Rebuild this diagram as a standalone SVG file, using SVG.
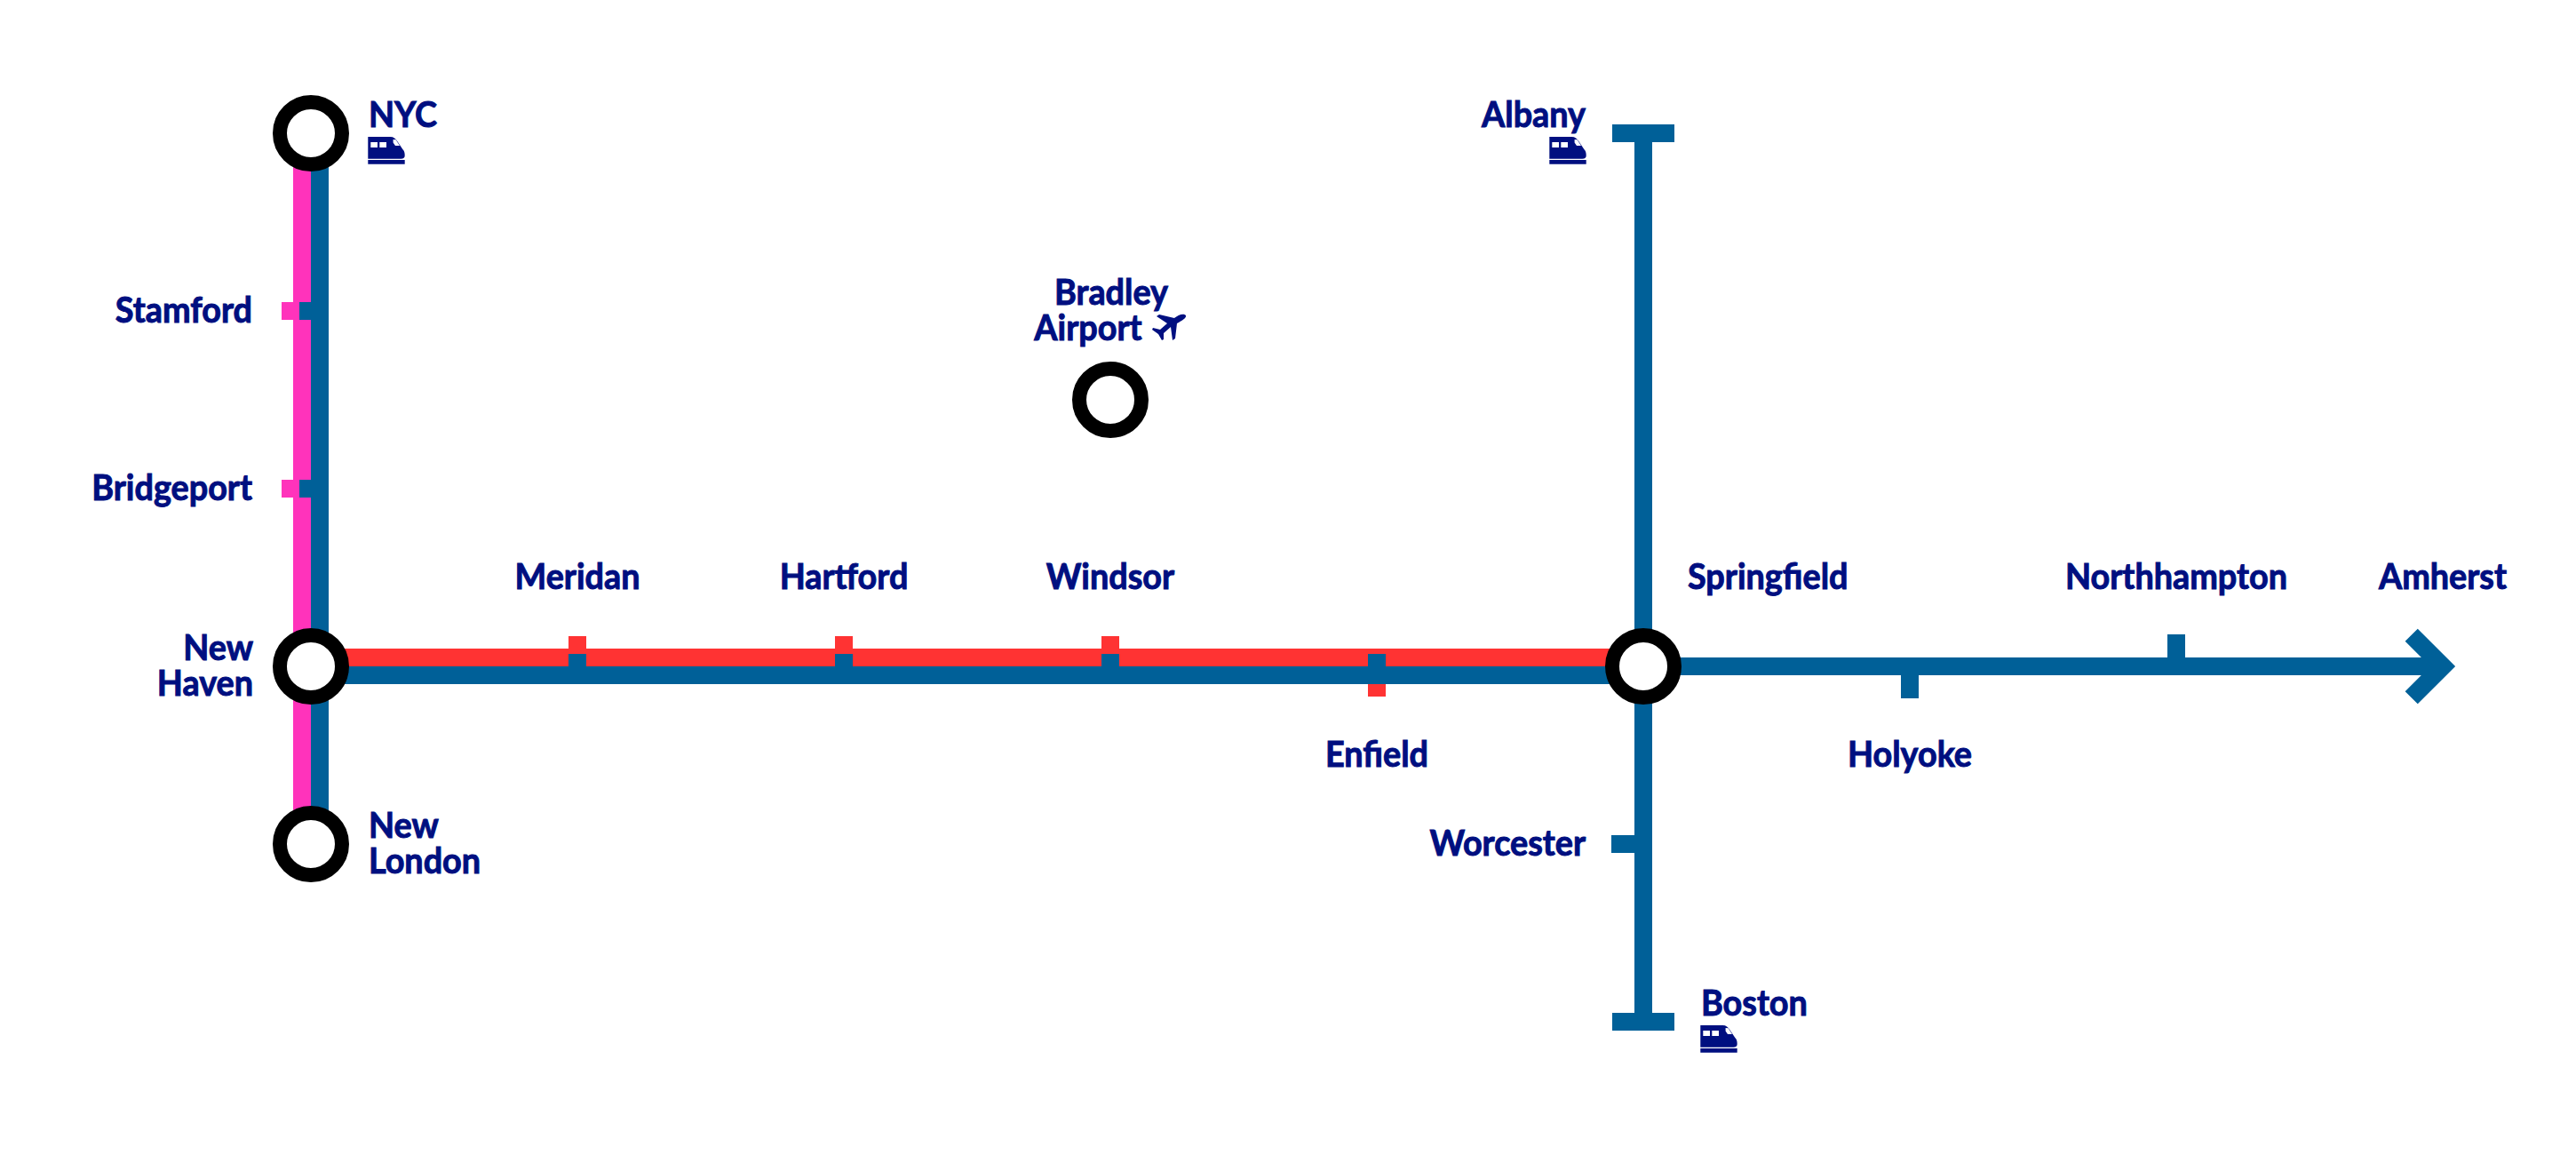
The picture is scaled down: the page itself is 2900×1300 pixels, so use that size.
<svg xmlns="http://www.w3.org/2000/svg" width="2900" height="1300" viewBox="0 0 2900 1300">
<style>
text{font-family:"Lato","Open Sans",sans-serif;font-weight:700;font-size:40px;fill:#000f80;stroke:#000f80;stroke-width:1px;transform-box:fill-box;transform:scaleX(.945);transform-origin:left center}
.e{text-anchor:end;transform-origin:right center}.m{text-anchor:middle;transform-origin:center center}
.st{fill:#fff;stroke:#000;stroke-width:16}
.bl{stroke:#006098;fill:none;stroke-width:20}
.pk{stroke:#ff33bb;fill:none;stroke-width:20}
.rd{stroke:#ff3333;fill:none;stroke-width:20}
.ic{fill:#000f80;fill-rule:evenodd}
</style>
<defs>
<path id="train" class="ic" d="M0,0H25C29,0 31,2 33,5L39,14C41,16 41.400,18 41.400,21C41.400,23.500 40,24.700 37,24.700H0ZM3,6V12H10.700V6ZM13,6V12H20.700V6ZM28.300,3V6.500L30.700,10H35.700L31.300,3.300ZM0,26H41.400V30.700H0Z"/>
</defs>
<rect width="2900" height="1300" fill="#fff"/>
<g id="connectors">
<path class="pk" d="M340,150V950"/>
<path class="bl" d="M360,150V950"/>
<path class="rd" d="M350,740H1850"/>
<path class="bl" d="M350,760H1850"/>
<path class="bl" d="M1850,150V1150M1815,150H1885M1815,1150H1885"/>
<path class="bl" d="M1850,750H2750"/>
<path class="bl" stroke-miterlimit="10" d="M2714.700,714.700L2750,750L2714.700,785.300"/>
<path class="pk" d="M317,350H340M317,550H340"/>
<path class="bl" d="M337,350H370M337,550H370"/>
<path class="rd" d="M650,716V750M950,716V750M1250,716V750"/>
<path class="bl" d="M650,736V770M950,736V770M1250,736V770"/>
<path class="rd" d="M1550,750V784"/>
<path class="bl" d="M1550,736V770"/>
<path class="bl" d="M2150,750V786M2450,750V714M1850,950H1814"/>
</g>
<g id="nyc"><circle class="st" cx="350" cy="150" r="35"/><text x="415" y="143">NYC</text><use href="#train" x="414.300" y="154"/></g>
<g id="stamford"><text class="e" x="284" y="363">Stamford</text></g>
<g id="bridgeport"><text class="e" x="284" y="563">Bridgeport</text></g>
<g id="new-haven"><circle class="st" cx="350" cy="750" r="35"/><text class="e" x="285" y="743">New</text><text class="e" x="285" y="783">Haven</text></g>
<g id="new-london"><circle class="st" cx="350" cy="950" r="35"/><text x="415" y="943">New</text><text x="415" y="983">London</text></g>
<g id="meridan"><text class="m" x="650" y="663">Meridan</text></g>
<g id="hartford"><text class="m" x="950" y="663">Hartford</text></g>
<g id="windsor"><text class="m" x="1250" y="663">Windsor</text></g>
<g id="enfield"><text class="m" x="1550" y="863">Enfield</text></g>
<g id="bradley"><circle class="st" cx="1250" cy="450" r="35"/><text class="m" x="1251" y="343">Bradley</text><text class="m" x="1225" y="383">Airport</text><path class="ic" d="M1335,355C1332,352 1326,355 1322,358L1305,354L1302,356L1314,364L1306,371L1298,369L1297,371L1304,376L1308,383L1310,382L1310,375L1318,368L1320,383L1323,381L1325,364C1330,361 1336,358 1335,355Z"/></g>
<g id="springfield"><circle class="st" cx="1850" cy="750" r="35"/><text x="1900" y="663">Springfield</text></g>
<g id="holyoke"><text class="m" x="2150" y="863">Holyoke</text></g>
<g id="northhampton"><text class="m" x="2450" y="663">Northhampton</text></g>
<g id="amherst"><text class="m" x="2750" y="663">Amherst</text></g>
<g id="albany"><text class="e" x="1785" y="143">Albany</text><use href="#train" x="1744.300" y="154"/></g>
<g id="worcester"><text class="e" x="1785" y="963">Worcester</text></g>
<g id="boston"><text x="1915" y="1143">Boston</text><use href="#train" x="1914.300" y="1154"/></g>
</svg>
